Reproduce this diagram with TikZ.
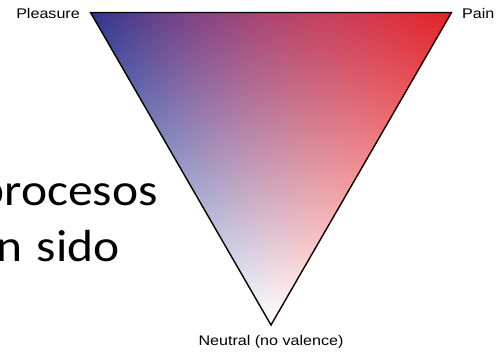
\documentclass[tikz,border=0pt]{standalone}
\usepackage{fontspec}
\usepackage{graphicx}
\setmainfont{Liberation Sans}
\newfontfamily\slidefont{Carlito}

% blue (pleasure) -- red (pain) -- white (neutral)
\pgfdeclarefunctionalshading{valence}{\pgfpoint{-50bp}{-50bp}}{\pgfpoint{50bp}{50bp}}{}{
  2 copy exch 2 mul add 25 add 100 div
  3 1 roll exch 2 mul sub 25 add 100 div
  2 copy 2 copy mul 0.6 mul 3 1 roll -0.82 mul exch -0.118 mul add add 1 add
  3 1 roll
  2 copy 2 copy mul 0.4 mul 3 1 roll -0.796 mul exch -0.875 mul add add 1 add
  3 1 roll
  2 copy mul 0.28 mul 3 1 roll -0.427 mul exch -0.851 mul add add 1 add
}

\begin{document}
\begin{tikzpicture}[x=1pt,y=1pt]
\tikzset{corner/.style = {font=\fontsize{14}{16}\selectfont, inner sep=0pt}}
\tikzset{slide/.style = {font=\slidefont\fontsize{45}{54}\selectfont, inner sep=0pt, anchor=base east}}
\tikzset{rim/.style = {draw=black, line width=1.4pt}}

\useasboundingbox (0,0) rectangle (497,351);
\clip (0,0) rectangle (497,351);

\coordinate (pl) at (90.5,338.5);
\coordinate (pn) at (451.5,338.5);
\coordinate (nt) at (271,26);

\node[slide] (proc) at (158,146) {\scalebox{1.1}[1]{procesos}};
\node[slide] (sido) at (120,90)  {\scalebox{1.1}[1]{n\hspace{13pt}sido}};

\shade[shading=valence] (pl) -- (pn) -- (nt) -- cycle;
\draw[rim] (pl) -- (pn) -- (nt) -- cycle;

\node[corner, anchor=base east] (pleasure) at (80,332.5)  {\scalebox{1.15}[1]{Pleasure}};
\node[corner, anchor=base west] (pain)     at (462,332.5) {\scalebox{1.15}[1]{Pain}};
\node[corner, anchor=base]      (neutral)  at (271,6)     {\scalebox{1.15}[1]{Neutral (no valence)}};
\end{tikzpicture}
\end{document}
